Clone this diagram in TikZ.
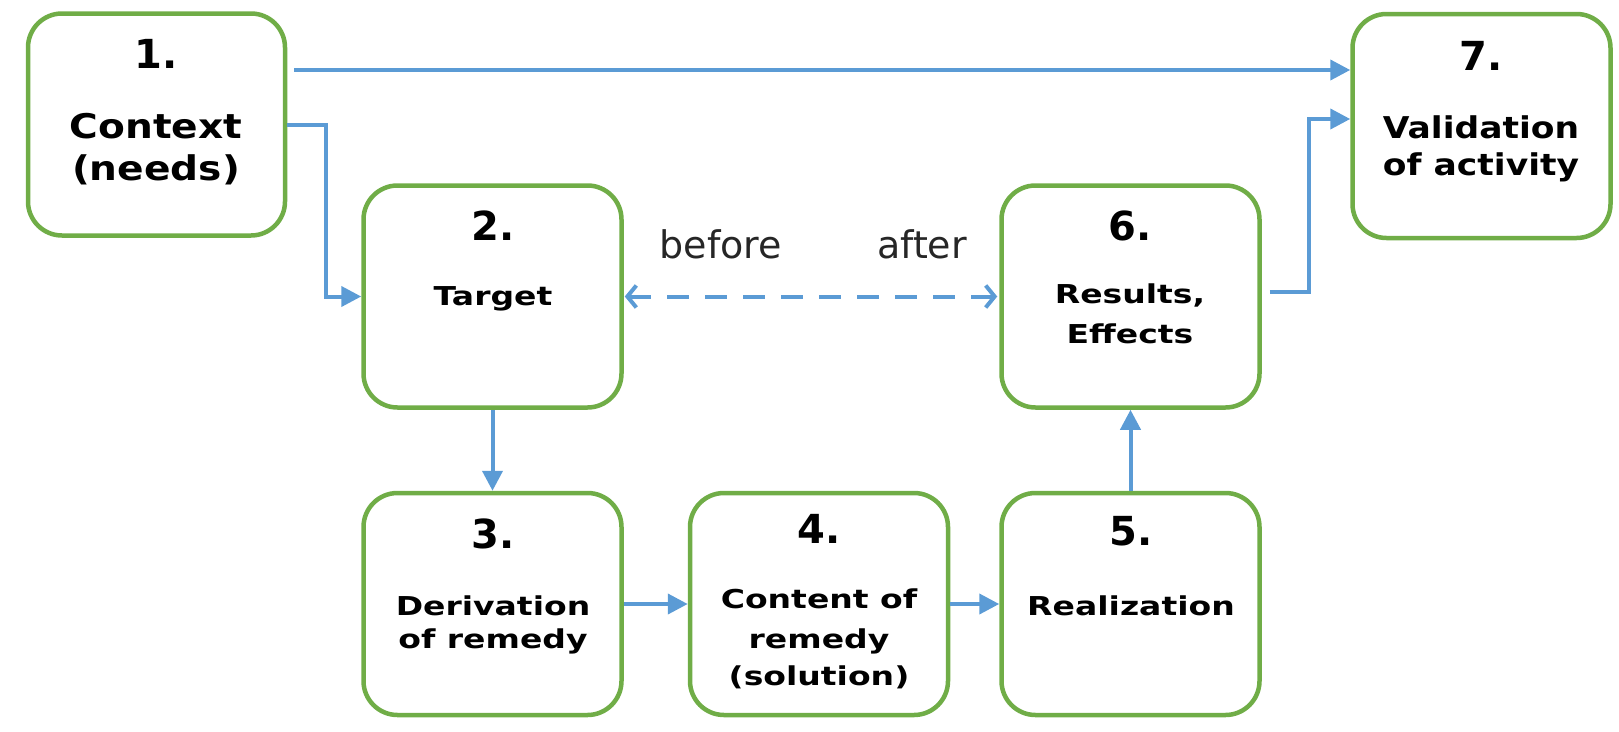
\documentclass[tikz,border=0pt]{standalone}
\usepackage{fontspec}
\setmainfont{DejaVu Sans}
\newfontfamily\widefont{DejaVu Sans}[FakeStretch=1.15]
\newfontfamily\widerfont{DejaVu Sans}[FakeStretch=1.27]
\newfontfamily\plainfont{DejaVu Sans}
\usetikzlibrary{arrows.meta}
\definecolor{boxgreen}{HTML}{70AD47}
\definecolor{flowblue}{HTML}{5B9BD5}
\begin{document}
\begin{tikzpicture}[x=1pt,y=-1pt,
  stepbox/.style={draw=boxgreen, line width=4.5pt, rounded corners=34pt,
    minimum width=258pt, minimum height=222pt, inner sep=0pt, fill=white},
  numlabel/.style={anchor=base, inner sep=0pt,
    font=\plainfont\bfseries\fontsize{40}{46}\selectfont},
  biglabel/.style={anchor=base, inner sep=0pt,
    font=\widefont\bfseries\fontsize{30}{36}\selectfont},
  boxlabel/.style={anchor=base, inner sep=0pt,
    font=\widerfont\bfseries\fontsize{26}{32}\selectfont},
  notelabel/.style={anchor=base, inner sep=0pt,
    font=\plainfont\fontsize{38}{44}\selectfont, text=black!85},
  flow/.style={draw=flowblue, line width=4pt,
    -{Triangle[length=20pt,width=20pt]}},
  twoway/.style={draw=flowblue, line width=4pt, dash pattern=on 22pt off 16pt,
    {Straight Barb[length=9pt,width=22pt,line width=4pt]}-{Straight Barb[length=9pt,width=22pt,line width=4pt]}},
]
\useasboundingbox (0,0) rectangle (1619,731);

% process boxes
\node[stepbox, minimum width=257pt] (b1) at (156.5,124.5) {};
\node[stepbox] (b2) at (492.5,296.5) {};
\node[stepbox] (b6) at (1130.5,296.5) {};
\node[stepbox, minimum height=224pt] (b7) at (1481.5,126) {};
\node[stepbox] (b3) at (492.5,604) {};
\node[stepbox] (b4) at (819,604) {};
\node[stepbox] (b5) at (1130.5,604) {};

% box texts
\node[numlabel] (t1a) at (156,68) {1.};
\node[biglabel, font=\widefont\bfseries\fontsize{34}{40}\selectfont] (t1b) at (156,138) {Context};
\node[biglabel, font=\widefont\bfseries\fontsize{34}{40}\selectfont] (t1c) at (156,180) {(needs)};

\node[numlabel] (t7a) at (1481,70) {7.};
\node[biglabel] (t7b) at (1481,138) {Validation};
\node[biglabel] (t7c) at (1481,175) {of activity};

\node[numlabel] (t2a) at (493,240) {2.};
\node[boxlabel] (t2b) at (493,305) {Target};

\node[numlabel] (t6a) at (1130,240) {6.};
\node[boxlabel] (t6b) at (1130,303) {Results,};
\node[boxlabel] (t6c) at (1130,343) {Effects};

\node[numlabel] (t3a) at (493,548) {3.};
\node[boxlabel] (t3b) at (493,615) {Derivation};
\node[boxlabel] (t3c) at (493,648) {of remedy};

\node[numlabel] (t4a) at (819,543) {4.};
\node[boxlabel] (t4b) at (819,608) {Content of};
\node[boxlabel] (t4c) at (819,648) {remedy};
\node[boxlabel] (t4d) at (819,685) {(solution)};

\node[numlabel] (t5a) at (1131,545) {5.};
\node[boxlabel] (t5b) at (1131,615) {Realization};

\node[notelabel] (before) at (721,258) {before};
\node[notelabel] (after) at (922,258) {after};

% helper coordinates for the bent and offset connectors
\coordinate (toprow) at (0,70);
\coordinate (lowin) at (0,119);

% connectors
\draw[flow, shorten <=7pt] (b1.east |- toprow) -- (b7.west |- toprow);
\draw[flow] (b1.east) -| ([xshift=-35pt]b2.west) -- (b2.west);
\draw[flow] (b2.south) -- (b3.north);
\draw[flow] (b3.east) -- (b4.west);
\draw[flow] (b4.east) -- (b5.west);
\draw[flow] (b5.north) -- (b6.south);
\draw[flow, shorten <=8pt] ([yshift=5pt]b6.east) -| ([xshift=-41pt]b7.west |- lowin) -- (b7.west |- lowin);
\draw[twoway, shorten <=1pt, shorten >=2pt] (b2.east) -- (b6.west);
\end{tikzpicture}
\end{document}
